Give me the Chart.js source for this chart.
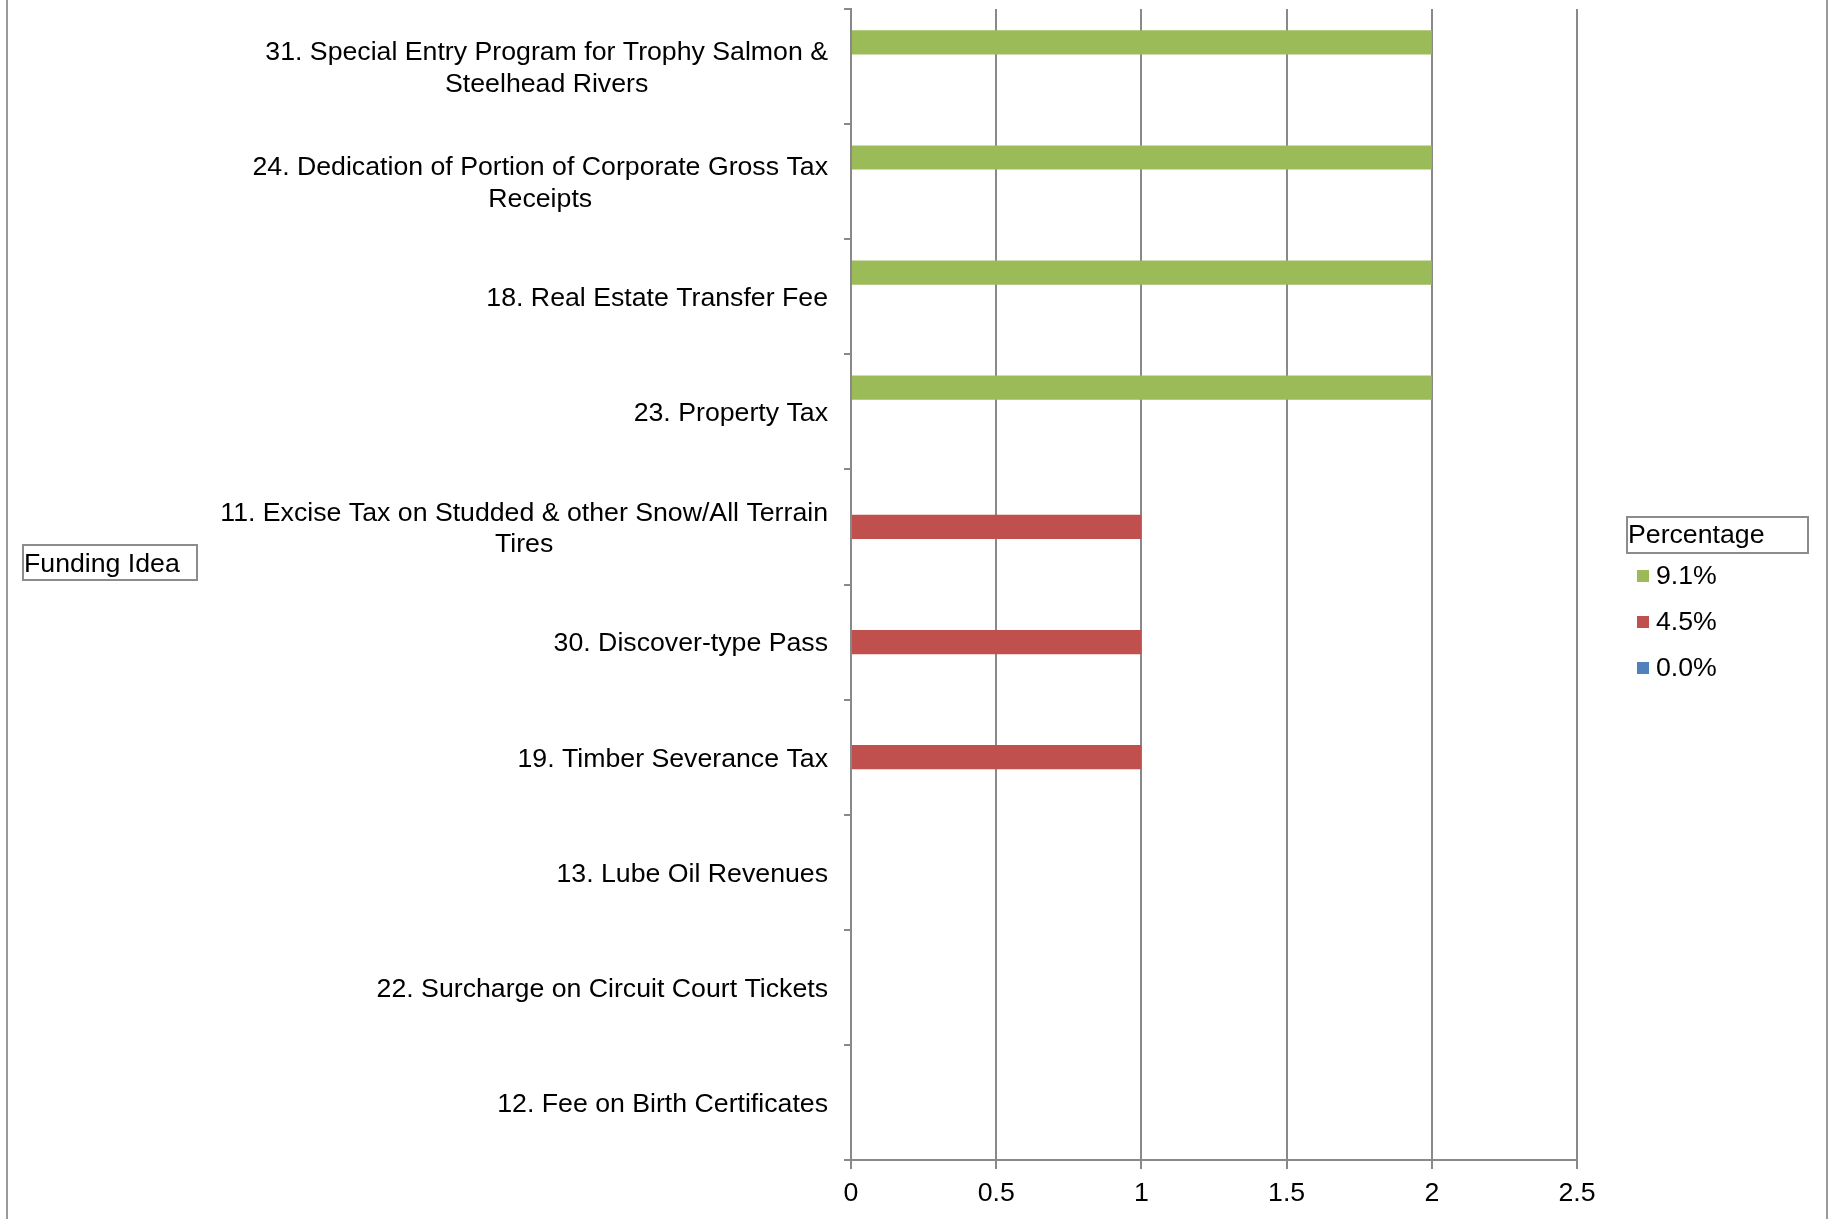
<!DOCTYPE html>
<html>
<head>
<meta charset="utf-8">
<script src="https://cdn.jsdelivr.net/npm/chart.js@4/dist/chart.umd.min.js"></script>
<style>
  html, body { margin: 0; padding: 0; background: #fff; }
  #wrap { width: 1834px; height: 1219px; }
</style>
</head>
<body>
<div id="wrap"><canvas id="myChart" width="1834" height="1219"></canvas></div>
<script>
// funding ideas, top to bottom; long names split over two lines
const fundingIdeas = [
  ['31. Special Entry Program for Trophy Salmon &', 'Steelhead Rivers'],
  ['24. Dedication of Portion of Corporate Gross Tax', 'Receipts'],
  '18. Real Estate Transfer Fee',
  '23. Property Tax',
  ['11. Excise Tax on Studded & other Snow/All Terrain', 'Tires'],
  '30. Discover-type Pass',
  '19. Timber Severance Tax',
  '13. Lube Oil Revenues',
  '22. Surcharge on Circuit Court Tickets',
  '12. Fee on Birth Certificates'
];
const percentLabels = ['9.1%', '4.5%', '0.0%'];
const count91 = [2, 2, 2, 2, null, null, null, null, null, null];
const count45 = [null, null, null, null, 1, 1, 1, null, null, null];
const count00 = [null, null, null, null, null, null, null, 0, 0, 0];
const xTicks = [0, 0.5, 1, 1.5, 2, 2.5];

const colors = ['#9BBB59', '#C0504D', '#4F81BD'];
const gridGrey = '#898989';
const FONT = '"Liberation Sans", Arial, sans-serif';
const FONT_SIZE = 26.7;

// category labels, boxed titles, custom legend and the outer frame
const decorations = {
  id: 'decorations',
  beforeDraw(chart) {
    const ctx = chart.ctx;
    ctx.save();
    ctx.strokeStyle = '#9a9a9a';
    ctx.lineWidth = 2;
    ctx.beginPath();
    ctx.moveTo(7, 0); ctx.lineTo(7, chart.height);
    ctx.moveTo(1827, 0); ctx.lineTo(1827, chart.height);
    ctx.stroke();
    ctx.restore();
  },
  afterDraw(chart) {
    const ctx = chart.ctx;
    const y = chart.scales.y;
    const right = y.right - 23;
    const lineH = 31.5;
    ctx.save();
    ctx.font = FONT_SIZE + 'px ' + FONT;
    ctx.fillStyle = '#000';
    ctx.textBaseline = 'middle';
    ctx.textAlign = 'center';
    chart.data.labels.forEach((lab, i) => {
      const lines = [].concat(lab);
      const w = Math.max(...lines.map(l => ctx.measureText(l).width));
      const cx = right - w / 2;
      const cy = y.getPixelForTick(i) + 2;
      lines.forEach((l, k) => {
        ctx.fillText(l, cx, cy + (k - (lines.length - 1) / 2) * lineH);
      });
    });

    // boxed field names
    ctx.textAlign = 'left';
    ctx.strokeStyle = '#8c8c8c';
    ctx.lineWidth = 2;
    ctx.strokeRect(23, 545, 174, 35);
    ctx.fillText('Funding Idea', 24, 565);
    ctx.strokeRect(1627, 517, 181, 36);
    ctx.fillText('Percentage', 1628, 536);

    // legend entries
    chart.data.datasets.forEach((ds, i) => {
      const cy = 576 + i * 46;
      ctx.fillStyle = ds.backgroundColor;
      ctx.fillRect(1637, cy - 6, 12, 12);
      ctx.fillStyle = '#000';
      ctx.fillText(ds.label, 1656, cy + 1);
    });
    ctx.restore();
  }
};

const ctx = document.getElementById('myChart').getContext('2d');
const myChart = new Chart(ctx, {
  type: 'bar',
  data: {
    labels: fundingIdeas,
    datasets: [
      { label: percentLabels[0], data: count91, backgroundColor: colors[0] },
      { label: percentLabels[1], data: count45, backgroundColor: colors[1] },
      { label: percentLabels[2], data: count00, backgroundColor: colors[2] }
    ]
  },
  options: {
    indexAxis: 'y',
    responsive: false,
    animation: false,
    devicePixelRatio: 1,
    layout: { padding: { top: 9, right: 257, bottom: 0, left: 0 } },
    datasets: {
      bar: { categoryPercentage: 0.63, barPercentage: 1, borderWidth: 0 }
    },
    plugins: {
      legend: { display: false },
      tooltip: { enabled: false }
    },
    scales: {
      x: {
        type: 'linear',
        min: 0,
        max: 2.5,
        afterBuildTicks: s => { s.ticks = xTicks.map(v => ({ value: v })); },
        afterFit: s => { s.height = 59; },
        grid: { color: gridGrey, lineWidth: 2, tickLength: 9 },
        border: { color: gridGrey, width: 2 },
        ticks: {
          color: '#000',
          padding: 9,
          font: { family: FONT, size: FONT_SIZE },
          callback: v => String(v)
        }
      },
      y: {
        type: 'category',
        offset: true,
        afterFit: s => { s.width = 851; },
        grid: { offset: true, drawOnChartArea: false, color: gridGrey, lineWidth: 2, tickLength: 7 },
        border: { color: gridGrey, width: 2 },
        ticks: { display: false }
      }
    }
  },
  plugins: [decorations]
});
</script>
</body>
</html>
